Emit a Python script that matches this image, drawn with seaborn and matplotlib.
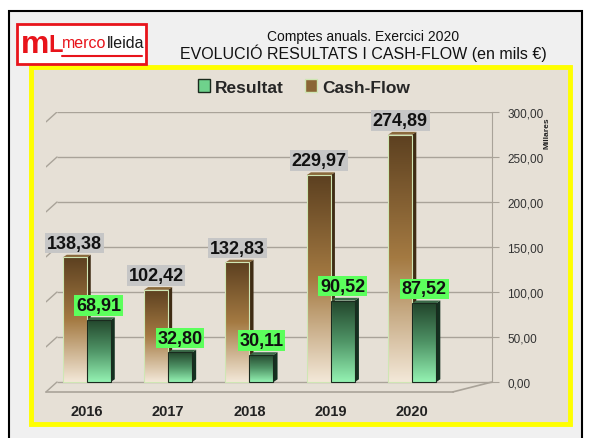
import numpy as np
import pandas as pd
import matplotlib.pyplot as plt
import seaborn as sns
from matplotlib.patches import Rectangle, Polygon, Patch
from matplotlib.colors import LinearSegmentedColormap
from matplotlib.ticker import FixedLocator

# valors (milers d'euros)
years = ['2016', '2017', '2018', '2019', '2020']
cash_flow = [138.38, 102.42, 132.83, 229.97, 274.89]
resultat = [68.91, 32.80, 30.11, 90.52, 87.52]
y_ticks = [0, 50, 100, 150, 200, 250, 300]

df = pd.DataFrame({
    'any': years * 2,
    'valor': cash_flow + resultat,
    'serie': ['Cash-Flow'] * len(years) + ['Resultat'] * len(years),
})

sns.set_style('white')
plt.rcParams['font.family'] = ['Liberation Sans', 'DejaVu Sans']

fig = plt.figure(figsize=(5.9, 4.39), dpi=100, facecolor='white')

# marc exterior i marc groc
fig.patches.append(Rectangle((9 / 590, -0.02), 573 / 590, 1 - 12 / 439 + 0.02,
                             transform=fig.transFigure, facecolor='#f0f0f0',
                             edgecolor='black', lw=1.5, zorder=-2))
fig.patches.append(Rectangle((31 / 590, 1 - 425 / 439), 539 / 590, 357 / 439,
                             transform=fig.transFigure, facecolor='#e6e0d6',
                             edgecolor='#ffff00', lw=3.5, zorder=-1))

# logo
red = '#e8141b'
fig.patches.append(Rectangle((17 / 590, 1 - 65 / 439), 129 / 590, 40 / 439,
                             transform=fig.transFigure, facecolor='white',
                             edgecolor=red, lw=2, zorder=1))
fig.text(21 / 590, 1 - 45 / 439, 'm', color=red, fontsize=23, fontweight='bold',
         va='center', ha='left')
fig.text(48 / 590, 1 - 46 / 439, 'L', color=red, fontsize=17, fontweight='bold',
         va='center', ha='left')
merco = fig.text(62 / 590, 1 - 44 / 439, 'merco', color=red, fontsize=11.5,
                 va='center', ha='left')
fig.add_artist(plt.Annotation('lleida', xy=(1, 0.5), xycoords=merco,
                              color='#1a1a1a', fontsize=11.5, va='center', ha='left'))
fig.lines.append(plt.Line2D([62 / 590, 142 / 590], [1 - 57 / 439, 1 - 57 / 439],
                            transform=fig.transFigure, color=red, lw=1.5))

# títols
fig.text(363 / 590, 1 - 37 / 439, 'Comptes anuals. Exercici 2020', fontsize=10,
         ha='center', va='center', color='#111111')
fig.text(363 / 590, 1 - 53 / 439, 'EVOLUCIÓ RESULTATS I CASH-FLOW (en mils €)',
         fontsize=11.5, ha='center', va='center', color='#111111')

# eixos
ax = fig.add_axes([46 / 590, 1 - 395.6 / 439, 446 / 590, 282.6 / 439])
ax.set_facecolor('none')
ax.set_zorder(5)

sns.barplot(data=df, x='any', y='valor', hue='serie', hue_order=['Cash-Flow', 'Resultat'],
            palette=['#8a6535', '#4a9a60'], width=0.59, gap=0, legend=False,
            saturation=1, ax=ax, zorder=3)

# graella amb perspectiva
grid_col = '#a9a399'
ax.hlines(y_ticks, -0.365, 4.98, color=grid_col, lw=1, zorder=1)
for t in y_ticks:
    ax.plot([-0.5, -0.365], [t - 11, t], color=grid_col, lw=1, zorder=1)
ax.plot([4.5, 4.98], [-11, 0], color=grid_col, lw=1.2, zorder=1)

cmaps = {
    'Cash-Flow': LinearSegmentedColormap.from_list('cf', ['#f3e8d8', '#a47a42', '#5c4020']),
    'Resultat': LinearSegmentedColormap.from_list('re', ['#94f2b2', '#4f9466', '#22452b']),
}
side_cols = {'Cash-Flow': '#3f2c14', 'Resultat': '#143020'}
top_cols = {'Cash-Flow': '#8a6a3c', 'Resultat': '#3a6a48'}
edge_cols = {'Cash-Flow': '#cfe6b4', 'Resultat': '#1a2a1e'}
box_cols = {'Cash-Flow': '#c6c6c6', 'Resultat': '#5cff5c'}
grad = np.linspace(0, 1, 256).reshape(-1, 1)

for name, cont in zip(['Cash-Flow', 'Resultat'], ax.containers):
    for bar in cont:
        x0, w, h = bar.get_x(), bar.get_width(), bar.get_height()
        x1 = x0 + w
        bar.set_facecolor('none')
        bar.set_edgecolor(edge_cols[name])
        bar.set_linewidth(0.8)
        im = ax.imshow(grad, extent=[x0, x1, 0, h], origin='lower', aspect='auto',
                       cmap=cmaps[name], zorder=2.5)
        im.set_clip_path(bar)
        # cares laterals i superior (efecte 3D)
        d, e = 0.05, 3
        ax.add_patch(Polygon([(x1, 0), (x1 + d, e), (x1 + d, h + e), (x1, h)],
                             closed=True, facecolor=side_cols[name], edgecolor='none', zorder=2.4))
        ax.add_patch(Polygon([(x0, h), (x0 + d, h + e), (x1 + d, h + e), (x1, h)],
                             closed=True, facecolor=top_cols[name], edgecolor='none', zorder=2.4))
        ax.text(x0 + w / 2, h + 16, f'{h:.2f}'.replace('.', ','), ha='center',
                va='center', fontsize=13, fontweight='bold', color='#111111', zorder=5,
                bbox=dict(boxstyle='square,pad=0.1', facecolor=box_cols[name],
                          edgecolor='none'))

ax.set_xlim(-0.5, 4.98)
ax.set_ylim(-14, 300)

# espines (set_position reinicia els ticks, per això va abans)
for s in ['top', 'left']:
    ax.spines[s].set_visible(False)
ax.spines['right'].set_bounds(0, 300)
ax.spines['right'].set_color(grid_col)
ax.spines['bottom'].set_position(('data', -11))
ax.spines['bottom'].set_bounds(-0.5, 4.5)
ax.spines['bottom'].set_color(grid_col)
ax.spines['bottom'].set_linewidth(1.2)

# eix Y a la dreta
ax.yaxis.tick_right()
ax.yaxis.set_major_locator(FixedLocator(y_ticks))
ax.set_yticklabels([f'{t:.2f}'.replace('.', ',') for t in y_ticks], fontsize=8.5, color='#333333')
ax.tick_params(axis='y', length=5, width=0.8, color=grid_col, pad=6)
ax.set_ylabel('')
ax.text(1.123, 0.93, 'Millares', transform=ax.transAxes, rotation=90, fontsize=6,
        fontweight='bold', ha='center', va='center', color='#222222')

# eix X
ax.set_xticks(range(len(years)))
ax.set_xticklabels(years, fontsize=10.5, fontweight='bold', color='#222222')
ax.set_xticks([0.5, 1.5, 2.5, 3.5], minor=True)
ax.tick_params(axis='x', which='major', length=0, pad=9)
ax.tick_params(axis='x', which='minor', length=4, color=grid_col, direction='out')
ax.set_xlabel('')

# llegenda
handles = [Patch(facecolor='#6fd28c', edgecolor='#1a2a1e', label='Resultat'),
           Patch(facecolor='#8a6535', edgecolor='#cfe6b4', label='Cash-Flow')]
fig.legend(handles=handles, loc='center', bbox_to_anchor=(304 / 590, 1 - 88 / 439), ncol=2,
           frameon=False, handlelength=0.7, handleheight=0.7, handletextpad=0.3,
           columnspacing=1.2, prop={'size': 12.5, 'weight': 'bold'})

fig.savefig('out.png', dpi=100, facecolor='white')
